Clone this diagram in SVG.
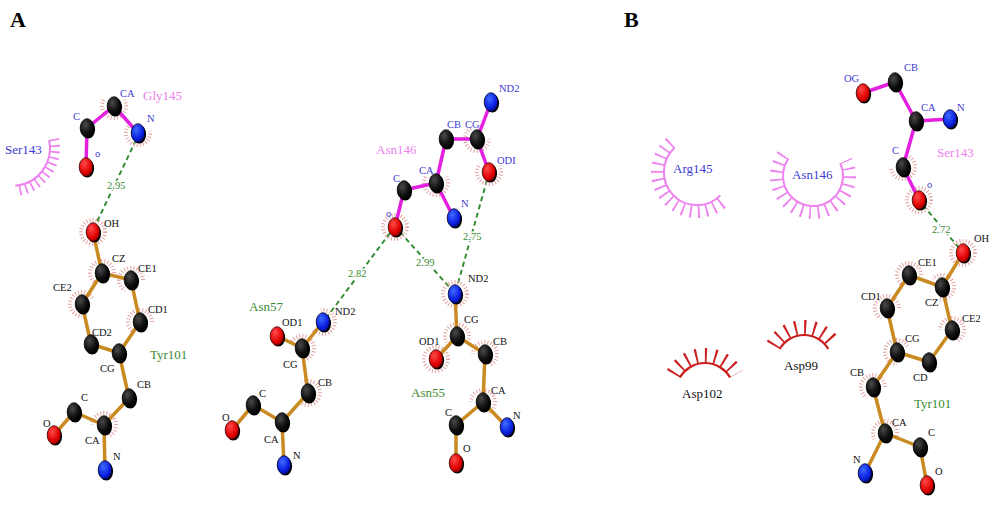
<svg xmlns="http://www.w3.org/2000/svg" xmlns:xlink="http://www.w3.org/1999/xlink" width="1000" height="519" viewBox="0 0 1000 519">
<defs>
<style>
.bm{stroke:#e41fe0;stroke-width:3.5;stroke-linecap:round;stroke-linejoin:round;fill:none}
.bo{stroke:#c98a22;stroke-width:3.5;stroke-linecap:round;stroke-linejoin:round;fill:none}
.hb{stroke:#2e8b2e;stroke-width:1.9;stroke-dasharray:5 3.5;fill:none}
.tk{fill:none;stroke:#e39a9a;stroke-width:4;stroke-dasharray:0.9 2.2}
.arp{fill:none;stroke:#ee82ee;stroke-width:2}
.spp{fill:none;stroke:#ee82ee}
.arr{fill:none;stroke:#cc2020;stroke-width:2.2}
.spr{fill:none;stroke:#cc2020}
text{font-family:"Liberation Serif","DejaVu Serif",serif}
.al{font-size:10.5px}
.lb{fill:#3b3bd1}
.lk{fill:#111}
.rs{font-size:13px}
.rp{fill:#ee80ee}
.rg{fill:#3b8a2e}
.rb{fill:#3b3bd1}
.rk{fill:#111}
.dl{font-size:10.5px;fill:#3b8a2e;stroke:#fff;stroke-width:3;paint-order:stroke;stroke-linejoin:round}
.hd{font-size:22px;font-weight:bold;fill:#000}
</style>
<radialGradient id="gk" cx="0.38" cy="0.32" r="0.75"><stop offset="0" stop-color="#4a4a4a"/><stop offset="0.6" stop-color="#111"/><stop offset="1" stop-color="#000"/></radialGradient>
<radialGradient id="gr" cx="0.38" cy="0.32" r="0.75"><stop offset="0" stop-color="#ff4a4a"/><stop offset="0.65" stop-color="#e00000"/><stop offset="1" stop-color="#8a0000"/></radialGradient>
<radialGradient id="gb" cx="0.38" cy="0.32" r="0.75"><stop offset="0" stop-color="#3f6bff"/><stop offset="0.65" stop-color="#0a1fe0"/><stop offset="1" stop-color="#000a80"/></radialGradient>
<g id="ak"><ellipse cx="1.3" cy="1.3" rx="6.8" ry="9.3" fill="#000"/><ellipse rx="6.8" ry="9.3" fill="url(#gk)" stroke="#000" stroke-width="0.8"/></g>
<g id="ar"><ellipse cx="1.3" cy="1.3" rx="6.8" ry="9.3" fill="#000"/><ellipse rx="6.8" ry="9.3" fill="url(#gr)" stroke="#300" stroke-width="0.8"/></g>
<g id="ab"><ellipse cx="1.3" cy="1.3" rx="6.8" ry="9.3" fill="#000"/><ellipse rx="6.8" ry="9.3" fill="url(#gb)" stroke="#002" stroke-width="0.8"/></g>
<path id="th" class="tk" d="M-10.39 -6 A12 12 0 1 0 10.39 -6"/>
<circle id="tf" class="tk" r="12"/>
</defs>
<rect width="1000" height="519" fill="#fff"/>

<text class="hd" x="10" y="27">A</text>
<text class="hd" x="624" y="27">B</text>

<!-- Panel A: Ser143 eyelash -->
<g id="ser143-a">
<path class="arp" d="M49.17 140.1 A38 38 0 0 1 15.31 185.86"/>
<path class="spp" style="stroke-width:10;stroke-dasharray:1.7 4.4" d="M54.06 139.06 A43 43 0 0 1 15.75 190.84"/>
<text class="rs rb" x="5" y="154">Ser143</text>
</g>

<!-- H-bond connectors -->
<g id="hbonds">
<path class="hb" d="M136 140 L95 226"/>
<path class="hb" d="M390 233 L327 317"/>
<path class="hb" d="M400 232 L451 289"/>
<path class="hb" d="M487 180 L457 287"/>
<path class="hb" d="M923 205 L959 248"/>
<text class="dl" x="107" y="189">2.95</text>
<text class="dl" x="348" y="277">2.82</text>
<text class="dl" x="416" y="266">2.99</text>
<text class="dl" x="463" y="240">2.75</text>
<text class="dl" x="932" y="233">2.72</text>
</g>

<!-- Gly145 -->
<g id="gly145">
<use xlink:href="#th" transform="translate(138,133) rotate(20)"/>
<use xlink:href="#th" transform="translate(114,106)"/>
<path class="bm" d="M87 128 L114 106 L138 133 M87 128 L86 167"/>
<use xlink:href="#ak" x="87" y="128"/>
<use xlink:href="#ak" x="114" y="106"/>
<use xlink:href="#ab" x="138" y="133"/>
<use xlink:href="#ar" x="86" y="167"/>
<text class="al lb" x="73" y="120">C</text>
<text class="al lb" x="120" y="97">CA</text>
<text class="al lb" x="147" y="122">N</text>
<text class="al lb" x="95" y="157">o</text>
<text class="rs rp" x="143" y="100">Gly145</text>
</g>

<!-- Tyr101 (A) -->
<g id="tyr101-a">
<use xlink:href="#tf" transform="translate(93,232)"/>
<use xlink:href="#th" transform="translate(102,273) rotate(150)"/>
<use xlink:href="#th" transform="translate(131,280) rotate(150)"/>
<use xlink:href="#th" transform="translate(82,304) rotate(120)"/>
<use xlink:href="#th" transform="translate(140,322) rotate(150)"/>
<use xlink:href="#th" transform="translate(104,425) rotate(-150)"/>
<path class="bo" d="M93 232 L102 273 L131 280 L140 322 L119 353 L91 344 L82 304 L102 273 M119 353 L129 398 L104 425 L74 412 L54 435 M104 425 L105 470"/>
<use xlink:href="#ar" x="93" y="232"/>
<use xlink:href="#ak" x="102" y="273"/>
<use xlink:href="#ak" x="131" y="280"/>
<use xlink:href="#ak" x="82" y="304"/>
<use xlink:href="#ak" x="140" y="322"/>
<use xlink:href="#ak" x="91" y="344"/>
<use xlink:href="#ak" x="119" y="353"/>
<use xlink:href="#ak" x="129" y="398"/>
<use xlink:href="#ak" x="104" y="425"/>
<use xlink:href="#ak" x="74" y="412"/>
<use xlink:href="#ar" x="54" y="435"/>
<use xlink:href="#ab" x="105" y="470"/>
<text class="al lk" x="104" y="227">OH</text>
<text class="al lk" x="112" y="262">CZ</text>
<text class="al lk" x="138" y="272">CE1</text>
<text class="al lk" x="53" y="291">CE2</text>
<text class="al lk" x="148" y="313">CD1</text>
<text class="al lk" x="92" y="336">CD2</text>
<text class="al lk" x="100" y="372">CG</text>
<text class="al lk" x="137" y="388">CB</text>
<text class="al lk" x="81" y="401">C</text>
<text class="al lk" x="43" y="427">O</text>
<text class="al lk" x="85" y="444">CA</text>
<text class="al lk" x="113" y="460">N</text>
<text class="rs rg" x="150" y="359">Tyr101</text>
</g>

<!-- Asn57 -->
<g id="asn57">
<use xlink:href="#th" transform="translate(323,322) rotate(-70)"/>
<use xlink:href="#th" transform="translate(302,348) rotate(-130)"/>
<use xlink:href="#th" transform="translate(308,393) rotate(-90)"/>
<path class="bo" d="M323 322 L302 348 L277 336 M302 348 L308 393 L282 422 L253 405 L232 430 M282 422 L284 465"/>
<use xlink:href="#ab" x="323" y="322"/>
<use xlink:href="#ar" x="277" y="336"/>
<use xlink:href="#ak" x="302" y="348"/>
<use xlink:href="#ak" x="308" y="393"/>
<use xlink:href="#ak" x="282" y="422"/>
<use xlink:href="#ak" x="253" y="405"/>
<use xlink:href="#ar" x="232" y="430"/>
<use xlink:href="#ab" x="284" y="465"/>
<text class="al lk" x="335" y="315">ND2</text>
<text class="al lk" x="282" y="326">OD1</text>
<text class="al lk" x="283" y="368">CG</text>
<text class="al lk" x="318" y="386">CB</text>
<text class="al lk" x="259" y="397">C</text>
<text class="al lk" x="222" y="421">O</text>
<text class="al lk" x="264" y="443">CA</text>
<text class="al lk" x="293" y="459">N</text>
<text class="rs rg" x="249" y="311">Asn57</text>
</g>

<!-- Asn146 (A) -->
<g id="asn146-a">
<use xlink:href="#th" transform="translate(436,183)"/>
<use xlink:href="#th" transform="translate(477,139) rotate(30)"/>
<use xlink:href="#th" transform="translate(489,172)"/>
<use xlink:href="#tf" transform="translate(395,227)"/>
<path class="bm" d="M491 102 L477 139 L446 139 L436 183 L404 190 L395 227 M477 139 L489 172 M436 183 L454 218"/>
<use xlink:href="#ab" x="491" y="102"/>
<use xlink:href="#ak" x="477" y="139"/>
<use xlink:href="#ak" x="446" y="139"/>
<use xlink:href="#ar" x="489" y="172"/>
<use xlink:href="#ak" x="436" y="183"/>
<use xlink:href="#ak" x="404" y="190"/>
<use xlink:href="#ab" x="454" y="218"/>
<use xlink:href="#ar" x="395" y="227"/>
<text class="al lb" x="499" y="92">ND2</text>
<text class="al lb" x="447" y="128">CB</text>
<text class="al lb" x="465" y="128">CG</text>
<text class="al lb" x="497" y="164">ODI</text>
<text class="al lb" x="419" y="174">CA</text>
<text class="al lb" x="393" y="182">C</text>
<text class="al lb" x="461" y="207">N</text>
<text class="al lb" x="386" y="217">o</text>
<text class="rs rp" x="376" y="154">Asn146</text>
</g>

<!-- Asn55 -->
<g id="asn55">
<use xlink:href="#tf" transform="translate(455,294)"/>
<use xlink:href="#th" transform="translate(457,336) rotate(180)"/>
<use xlink:href="#th" transform="translate(485,354) rotate(-150)"/>
<use xlink:href="#tf" transform="translate(436,359)"/>
<use xlink:href="#th" transform="translate(483,402) rotate(-150)"/>
<path class="bo" d="M455 294 L457 336 L436 359 M457 336 L485 354 L483 402 L507 427 M483 402 L456 425 L456 463"/>
<use xlink:href="#ab" x="455" y="294"/>
<use xlink:href="#ak" x="457" y="336"/>
<use xlink:href="#ak" x="485" y="354"/>
<use xlink:href="#ar" x="436" y="359"/>
<use xlink:href="#ak" x="483" y="402"/>
<use xlink:href="#ab" x="507" y="427"/>
<use xlink:href="#ak" x="456" y="425"/>
<use xlink:href="#ar" x="456" y="463"/>
<text class="al lk" x="468" y="282">ND2</text>
<text class="al lk" x="464" y="323">CG</text>
<text class="al lk" x="493" y="345">CB</text>
<text class="al lk" x="419" y="345">OD1</text>
<text class="al lk" x="491" y="394">CA</text>
<text class="al lk" x="513" y="419">N</text>
<text class="al lk" x="445" y="416">C</text>
<text class="al lk" x="463" y="452">O</text>
<text class="rs rg" x="411" y="397">Asn55</text>
</g>

<!-- Panel B: Arg145 eyelash -->
<g id="arg145-b">
<path class="arp" d="M674.92 147.48 A33 33 0 1 0 720.33 195.33"/>
<path class="spp" style="stroke-width:13;stroke-dasharray:1.8 6.2" d="M670.57 142.65 A39.5 39.5 0 1 0 724.93 199.93"/>
<text class="rs rb" x="673" y="173">Arg145</text>
</g>

<!-- Panel B: Asn146 eyelash -->
<g id="asn146-b">
<path class="arp" d="M788.43 158.79 A30 30 0 1 0 840.19 163.32"/>
<path class="spp" style="stroke-width:13;stroke-dasharray:1.8 6.6" d="M783.1 155.06 A36.5 36.5 0 1 0 846.08 160.58"/>
<text class="rs rb" x="792" y="179">Asn146</text>
</g>

<!-- Panel B: Asp102 eyelash -->
<g id="asp102-b">
<path class="arr" d="M679.89 377.5 A29 29 0 0 1 730.11 377.5"/>
<path class="spr" style="stroke-width:15;stroke-dasharray:2 7.5" d="M673.39 373.75 A36.5 36.5 0 0 1 736.61 373.75"/>
<text class="rs rk" x="682" y="398">Asp102</text>
</g>

<!-- Panel B: Asp99 eyelash -->
<g id="asp99-b">
<path class="arr" d="M779.75 349 A28 28 0 0 1 828.25 349"/>
<path class="spr" style="stroke-width:15;stroke-dasharray:2 7.3" d="M773.26 345.25 A35.5 35.5 0 0 1 834.74 345.25"/>
<text class="rs rk" x="784" y="370">Asp99</text>
</g>

<!-- Ser143 (B) -->
<g id="ser143-b">
<use xlink:href="#th" transform="translate(903,167) rotate(-40)"/>
<use xlink:href="#tf" transform="translate(919,200)"/>
<path class="bm" d="M863 93 L895 82 L916 121 L950 119 M916 121 L903 167 L919 200"/>
<use xlink:href="#ar" x="863" y="93"/>
<use xlink:href="#ak" x="895" y="82"/>
<use xlink:href="#ak" x="916" y="121"/>
<use xlink:href="#ab" x="950" y="119"/>
<use xlink:href="#ak" x="903" y="167"/>
<use xlink:href="#ar" x="919" y="200"/>
<text class="al lb" x="844" y="82">OG</text>
<text class="al lb" x="904" y="71">CB</text>
<text class="al lb" x="921" y="111">CA</text>
<text class="al lb" x="957" y="111">N</text>
<text class="al lb" x="892" y="154">C</text>
<text class="al lb" x="927" y="188">o</text>
<text class="rs rp" x="937" y="157">Ser143</text>
</g>

<!-- Tyr101 (B) -->
<g id="tyr101-b">
<use xlink:href="#tf" transform="translate(963,253)"/>
<use xlink:href="#th" transform="translate(942,287) rotate(-110)"/>
<use xlink:href="#th" transform="translate(909,275) rotate(150)"/>
<use xlink:href="#th" transform="translate(887,308) rotate(150)"/>
<use xlink:href="#th" transform="translate(952,330) rotate(-150)"/>
<use xlink:href="#th" transform="translate(897,352) rotate(120)"/>
<use xlink:href="#th" transform="translate(873,387) rotate(150)"/>
<use xlink:href="#th" transform="translate(885,433) rotate(180)"/>
<path class="bo" d="M963 253 L942 287 L909 275 L887 308 L897 352 L929 362 L952 330 L942 287 M897 352 L873 387 L885 433 L865 473 M885 433 L920 447 L927 485"/>
<use xlink:href="#ar" x="963" y="253"/>
<use xlink:href="#ak" x="942" y="287"/>
<use xlink:href="#ak" x="909" y="275"/>
<use xlink:href="#ak" x="887" y="308"/>
<use xlink:href="#ak" x="952" y="330"/>
<use xlink:href="#ak" x="897" y="352"/>
<use xlink:href="#ak" x="929" y="362"/>
<use xlink:href="#ak" x="873" y="387"/>
<use xlink:href="#ak" x="885" y="433"/>
<use xlink:href="#ab" x="865" y="473"/>
<use xlink:href="#ak" x="920" y="447"/>
<use xlink:href="#ar" x="927" y="485"/>
<text class="al lk" x="974" y="242">OH</text>
<text class="al lk" x="918" y="266">CE1</text>
<text class="al lk" x="861" y="300">CD1</text>
<text class="al lk" x="925" y="306">CZ</text>
<text class="al lk" x="962" y="322">CE2</text>
<text class="al lk" x="905" y="342">CG</text>
<text class="al lk" x="913" y="381">CD</text>
<text class="al lk" x="850" y="376">CB</text>
<text class="al lk" x="892" y="426">CA</text>
<text class="al lk" x="928" y="436">C</text>
<text class="al lk" x="853" y="463">N</text>
<text class="al lk" x="935" y="475">O</text>
<text class="rs rg" x="914" y="408">Tyr101</text>
</g>
</svg>
